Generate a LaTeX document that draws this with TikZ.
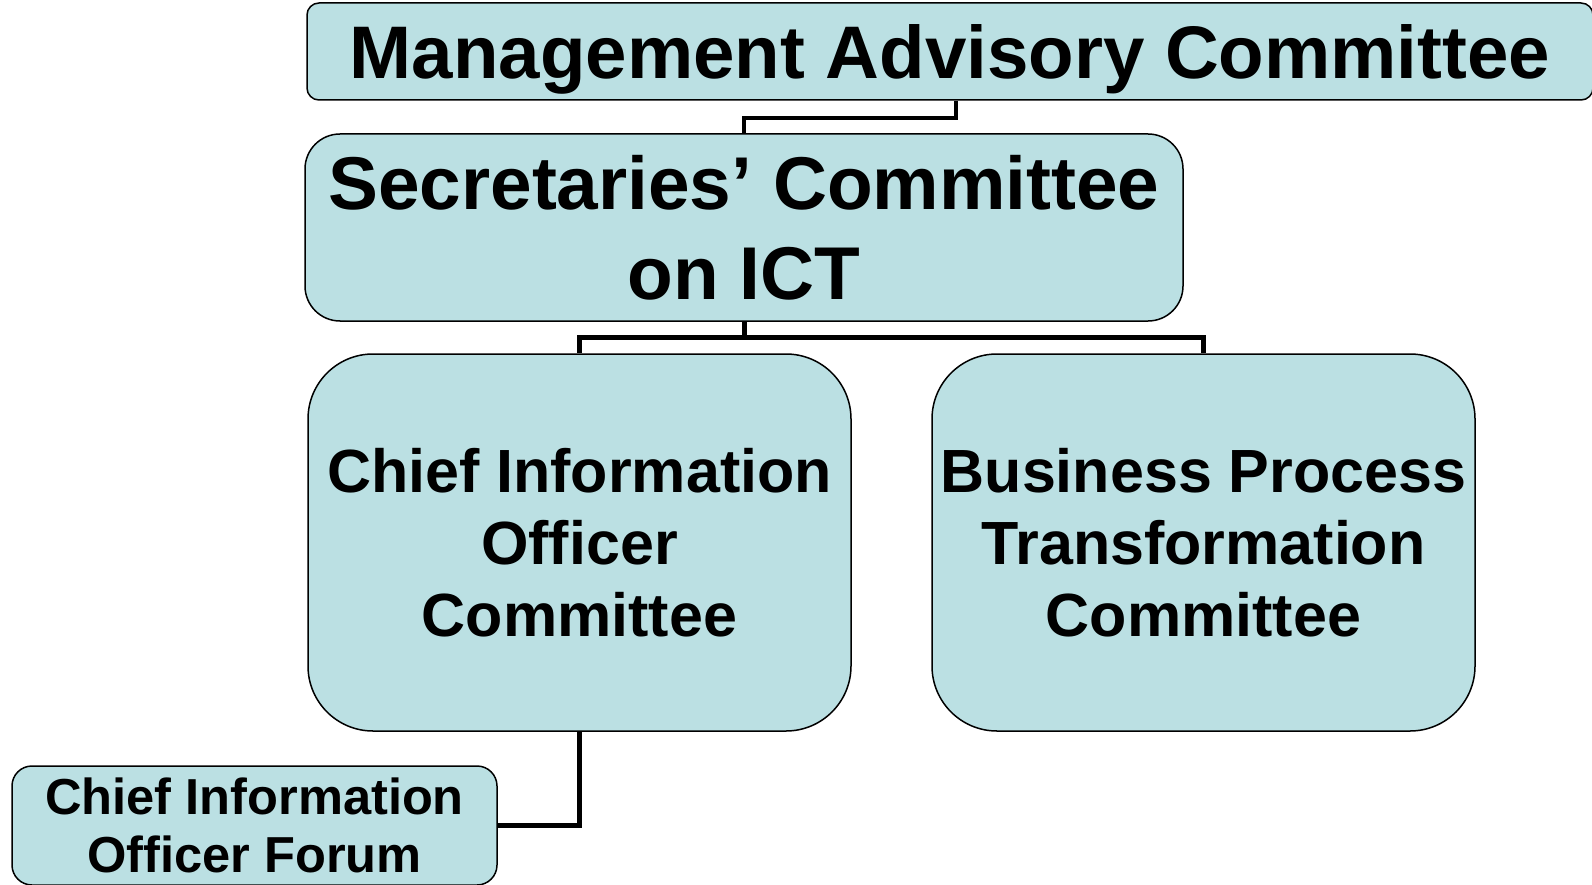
\documentclass[tikz,border=0pt]{standalone}
\usepackage{fontspec}
\setmainfont{Liberation Sans}
\usetikzlibrary{positioning,calc}
\definecolor{boxfill}{RGB}{187,224,227}

\tikzset{
  unit/.style={draw=black, line width=1.5pt, fill=boxfill, align=center,
    inner sep=0pt, font=\bfseries},
  link/.style={draw=black, line width=5pt}
}

\begin{document}
\begin{tikzpicture}[x=1pt, y=-1pt]
    \useasboundingbox (0, 0) rectangle (1592, 885);

    \node[unit, rounded corners=12pt, minimum width=1286pt, minimum height=97pt,
      text depth=0pt, font=\bfseries\fontsize{74.5}{88}\selectfont] (mac) at (950, 51.5)
      {Management Advisory Committee};
    \node[unit, rounded corners=35pt, minimum width=878pt, minimum height=187pt,
      font=\bfseries\fontsize{74.8}{90}\selectfont] (sc) at (744, 227.5)
      {Secretaries’ Committee\\on ICT};

    \node[unit, rounded corners=65pt, minimum width=543pt, minimum height=377pt,
      font=\bfseries\fontsize{61}{72}\selectfont] (cio) at (579.5, 542.5)
      {Chief Information\\Officer\\Committee};
    \node[unit, rounded corners=65pt, minimum width=543pt, minimum height=377pt,
      font=\bfseries\fontsize{61}{72}\selectfont] (bpt) at (1203.5, 542.5)
      {Business Process\\Transformation\\Committee};

    \node[unit, rounded corners=20pt, minimum width=485pt, minimum height=119pt,
      font=\bfseries\fontsize{50.6}{58}\selectfont] (forum) at (254.5, 825.5)
      {Chief Information\\Officer Forum};

    \draw[link, line width=4pt] ([xshift=6pt]mac.south) -- ++(0, 17) -| (sc.north);
    \draw[link] (sc.south) -- ++(0, 16) -| (cio.north);
    \draw[link] (sc.south) -- ++(0, 16) -| (bpt.north);
    \draw[link] (cio.south) |- (forum.east);
  \end{tikzpicture}
\end{document}
